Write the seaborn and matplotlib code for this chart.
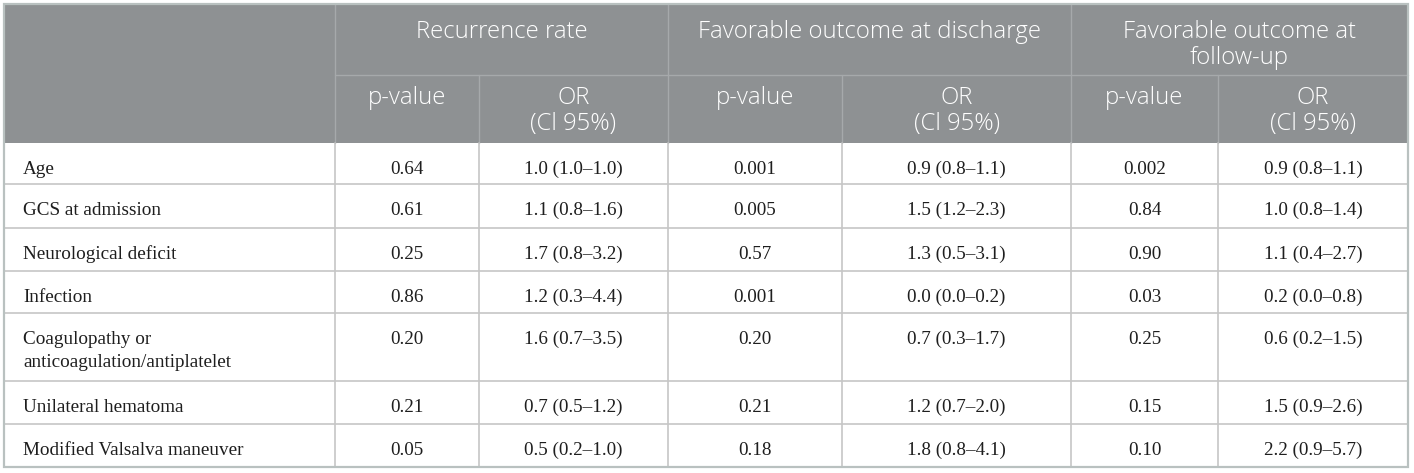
import matplotlib
matplotlib.use("Agg")
import matplotlib.pyplot as plt
from matplotlib.patches import Rectangle
import seaborn as sns

# table content
variables = ["Age", "GCS at admission", "Neurological deficit", "Infection",
             "Coagulopathy or\nanticoagulation/antiplatelet",
             "Unilateral hematoma", "Modified Valsalva maneuver"]
group_titles = ["Recurrence rate", "Favorable outcome at discharge",
                "Favorable outcome at\nfollow-up"]
sub_titles = ["p-value", "OR\n(Cl 95%)"]

recurrence_p = ["0.64", "0.61", "0.25", "0.86", "0.20", "0.21", "0.05"]
recurrence_or = ["1.0 (1.0–1.0)", "1.1 (0.8–1.6)", "1.7 (0.8–3.2)", "1.2 (0.3–4.4)",
                 "1.6 (0.7–3.5)", "0.7 (0.5–1.2)", "0.5 (0.2–1.0)"]
discharge_p = ["0.001", "0.005", "0.57", "0.001", "0.20", "0.21", "0.18"]
discharge_or = ["0.9 (0.8–1.1)", "1.5 (1.2–2.3)", "1.3 (0.5–3.1)", "0.0 (0.0–0.2)",
                "0.7 (0.3–1.7)", "1.2 (0.7–2.0)", "1.8 (0.8–4.1)"]
followup_p = ["0.002", "0.84", "0.90", "0.03", "0.25", "0.15", "0.10"]
followup_or = ["0.9 (0.8–1.1)", "1.0 (0.8–1.4)", "1.1 (0.4–2.7)", "0.2 (0.0–0.8)",
               "0.6 (0.2–1.5)", "1.5 (0.9–2.6)", "2.2 (0.9–5.7)"]

columns = [recurrence_p, recurrence_or, discharge_p, discharge_or, followup_p, followup_or]

# layout (pixels)
col_edges = [4, 335, 479, 668, 842, 1071, 1218, 1408]
head_edges = [4, 75, 143]
row_heights = [41, 44, 43, 42, 68, 43, 43]

header_bg = "#8e9193"
header_line = "#a6a9ab"
grid_line = "#c6c6c6"
border = "#b9c1c0"
body_text = "#1e1e1e"

sns.set_theme(style="white")
plt.rcParams["font.family"] = ["Liberation Serif", "DejaVu Serif"]

fig = plt.figure(figsize=(14.14, 4.73), dpi=100)
ax = fig.add_axes([0, 0, 1, 1])
ax.set_xlim(0, 1414)
ax.set_ylim(473, 0)
ax.axis("off")

left, right = col_edges[0], col_edges[-1]
top, head_bottom = head_edges[0], head_edges[-1]

# header background
ax.add_patch(Rectangle((left, top), right - left, head_bottom - top,
                       facecolor=header_bg, edgecolor="none", zorder=1))

hfont = dict(family=["Open Sans", "DejaVu Sans"], color="white", fontsize=17.2,
             fontweight="light", ha="center", va="top", linespacing=1.12, zorder=5)

# group titles and sub-header
for g, title in enumerate(group_titles):
    x0, x1 = col_edges[1 + 2 * g], col_edges[3 + 2 * g]
    ax.text((x0 + x1) / 2, top + 16, title, **hfont)
    for s, sub in enumerate(sub_titles):
        a, b = col_edges[1 + 2 * g + s], col_edges[2 + 2 * g + s]
        ax.text((a + b) / 2, head_edges[1] + 11, sub, **hfont)

# header lines
ax.plot([col_edges[1], right], [head_edges[1]] * 2, color=header_line, lw=1, zorder=3)
for i, x in enumerate(col_edges[1:-1]):
    y0 = top if i % 2 == 0 else head_edges[1]
    ax.plot([x, x], [y0, head_bottom], color=header_line, lw=1, zorder=3)

# body rows
y = head_bottom
for r, name in enumerate(variables):
    h = row_heights[r]
    ax.text(left + 19, y + 17.5, name, fontsize=13.8, color=body_text,
            ha="left", va="top", linespacing=1.5, zorder=5)
    for c, col in enumerate(columns):
        xc = (col_edges[c + 1] + col_edges[c + 2]) / 2
        ax.text(xc, y + 17.5, col[r], fontsize=13.8, color=body_text,
                ha="center", va="top", zorder=5)
    y += h
    if r < len(variables) - 1:
        ax.plot([left, right], [y, y], color=grid_line, lw=1.2, zorder=3)
body_bottom = y

for x in col_edges[1:-1]:
    ax.plot([x, x], [head_bottom, body_bottom], color=grid_line, lw=1.2, zorder=3)

# outer border
ax.add_patch(Rectangle((left, top), right - left, body_bottom - top,
                       facecolor="none", edgecolor=border, lw=1.6, zorder=6))

fig.savefig("out.png", dpi=100)
